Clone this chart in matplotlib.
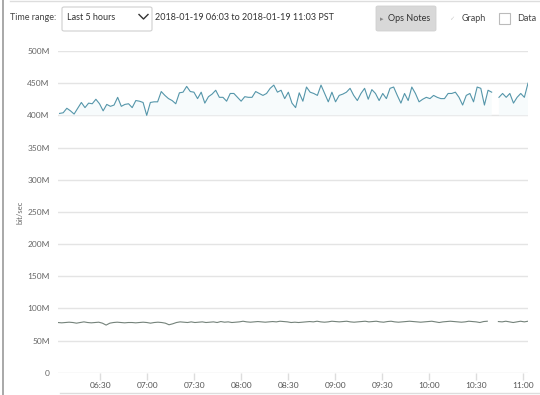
import numpy as np
import pandas as pd
import matplotlib
matplotlib.use("Agg")
import matplotlib.pyplot as plt
from matplotlib.patches import FancyBboxPatch, Rectangle
import matplotlib.dates as mdates

plt.rcParams['font.family'] = ['Lato', 'DejaVu Sans']

# upper series (M bit/sec), NaN = gap in the data
upper = [403, 404, 411, 407, 402, 411, 420, 412, 419, 418, 425, 418, 407, 417, 414, 416,
         428, 414, 417, 418, 412, 423, 422, 420, 400, 420, 421, 421, 437, 431, 426, 423,
         418, 435, 436, 445, 437, 436, 426, 436, 419, 429, 433, 439, 428, 428, 422, 434,
         434, 428, 422, 429, 428, 428, 437, 434, 431, 434, 442, 447, 436,
         439, 426, 436, 419, 412, 435, 422, 444, 436, 434, 431, 447, 434, 421, 436, 421,
         431, 433, 436, 442, 431, 423, 434, 442, 425, 440, 434, 423, 434, 426, 442, 444,
         431, 419, 434, 423, 444, 434, 421, 425, 428, 426, 431, 428, 426, 426, 434, 434,
         436, 428, 416, 431, 434, 421, 444, 442, 416, 439, 436, np.nan, 428, 434, 428, 434,
         419, 428, 434, 428, 450]

# lower series (M bit/sec)
lower = [78, 77.5, 78, 78.5, 78, 77, 78, 79, 78, 77.5, 78, 78.5, 77, 74, 77, 78,
         78.5, 78, 77.5, 78, 78, 77.5, 78, 78.5, 78, 77, 78, 78.5, 78, 77, 74.5, 76,
         78, 79, 78.5, 78, 79, 78, 78.5, 79, 78, 78.5, 79, 78, 79.5, 78.5, 79, 78,
         78.5, 79, 80, 79, 78.5, 79, 79.5, 79, 78.5, 79, 79.5, 79, 80, 79.5, 79, 78,
         78.5, 78, 78.5, 79, 79.5, 79, 80, 79, 78.5, 79, 80, 79.5, 79, 79.5, 80, 79,
         78.5, 79, 79.5, 80, 79, 79.5, 80, 79, 78.5, 79.5, 80, 79, 78.5, 79, 79.5, 80,
         79.5, 79, 78.5, 79, 79.5, 80, 79, 78, 79, 79.5, 80, 79.5, 79, 78.5, 79, 80,
         79.5, 79, 78, 79.5, 80, np.nan, np.nan, 79.5, 79, 80, 79, 78, 79, 80, 79, 80]

yticks = [0, 50, 100, 150, 200, 250, 300, 350, 400, 450, 500]
ytick_labels = ['0' if v == 0 else f'{v}M' for v in yticks]

start = pd.Timestamp('2018-01-19 06:03')
end = pd.Timestamp('2018-01-19 11:03')
t_up = pd.date_range(start + pd.Timedelta(minutes=1), end, periods=len(upper))
t_lo = pd.date_range(start, end, periods=len(lower))

fig = plt.figure(figsize=(5.4, 3.95), dpi=100)
ax = fig.add_axes([58 / 540, 1 - 372.7 / 395, 470 / 540, (372.7 - 51) / 395])

up = np.array(upper)
ax.fill_between(t_up, 400, up, color='#f7fbfc', lw=0)
ax.plot(t_up, up, color='#5596aa', lw=0.8)
ax.plot(t_lo, lower, color='#74827a', lw=0.8)

ax.set_ylim(0, 500)
ax.set_xlim(start, end)
ax.set_yticks(yticks)
ax.set_yticklabels(ytick_labels)
ax.grid(axis='y', color='#e4e4e4', lw=1)
ax.set_axisbelow(True)
for s in ax.spines.values():
    s.set_visible(False)
ax.tick_params(axis='y', length=0, pad=6, labelsize=6, labelcolor='#666666')
ax.xaxis.set_major_locator(mdates.MinuteLocator(byminute=[0, 30]))
ax.xaxis.set_major_formatter(mdates.DateFormatter('%H:%M'))
ax.tick_params(axis='x', length=5, color='#dddddd', width=1, pad=1.5,
               labelsize=6, labelcolor='#555555', direction='out')
ax.set_ylabel('bit/sec', fontsize=5.5, color='#666666', labelpad=3)

# page frame
fig.add_artist(plt.Line2D([3 / 540, 3 / 540], [0, 1], color='#9a9a9a', lw=1.2))
fig.add_artist(plt.Line2D([10 / 540, 1], [1 - 1 / 395, 1 - 1 / 395], color='#dddddd', lw=1))
fig.add_artist(plt.Line2D([60 / 540, 1], [1 - 393 / 395, 1 - 393 / 395], color='#dddddd', lw=1))

# header controls
def fx(px):
    return px / 540

def fy(py):
    return 1 - py / 395

hs = 6.5
fig.text(fx(10), fy(17), 'Time range:', fontsize=hs, color='#444444', va='center')
fig.add_artist(FancyBboxPatch((fx(62), fy(31)), fx(90), 24 / 395,
                              boxstyle='round,pad=0,rounding_size=0.004',
                              fc='white', ec='#d0d0d0', lw=0.8))
fig.text(fx(67), fy(17), 'Last 5 hours', fontsize=hs, color='#333333', va='center')
fig.add_artist(plt.Line2D([fx(139), fx(143.5), fx(148)], [fy(14.5), fy(19), fy(14.5)],
                          color='#333333', lw=1))
fig.text(fx(155), fy(17), '2018-01-19 06:03 to 2018-01-19 11:03 PST',
         fontsize=hs, color='#333333', va='center')
fig.add_artist(FancyBboxPatch((fx(376), fy(31)), fx(60), 25 / 395,
                              boxstyle='round,pad=0,rounding_size=0.004',
                              fc='#d8d8d8', ec='#d0d0d0', lw=0.6))
fig.text(fx(380), fy(18.5), '\u25b8', fontsize=5, color='#888888', va='center')
fig.text(fx(388), fy(18.5), 'Ops Notes', fontsize=hs, color='#333333', va='center')
fig.text(fx(449), fy(18.5), '\u2713', fontsize=4.5, color='#cccccc', va='center',
         family='DejaVu Sans')
fig.text(fx(462), fy(18.5), 'Graph', fontsize=hs, color='#444444', va='center')
fig.add_artist(Rectangle((fx(499), fy(24)), fx(11), 11 / 395,
                         fc='white', ec='#bbbbbb', lw=0.8))
fig.text(fx(517), fy(18.5), 'Data', fontsize=hs, color='#444444', va='center')

fig.savefig('out.png', dpi=100)
